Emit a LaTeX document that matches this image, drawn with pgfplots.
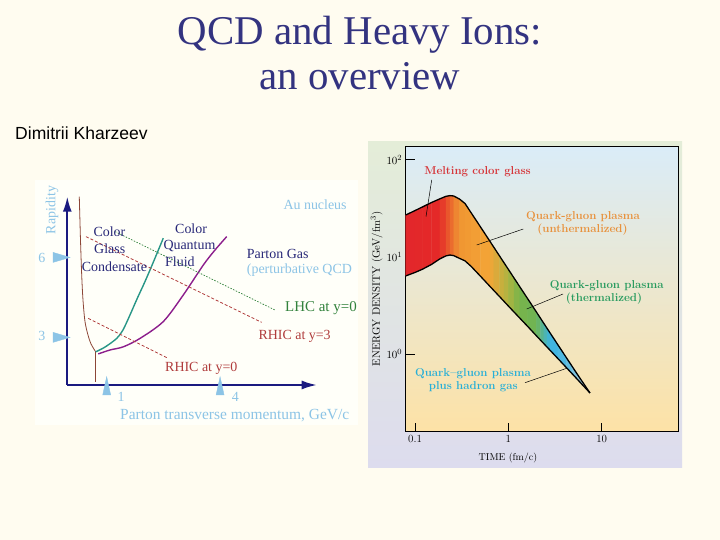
\documentclass[border=0pt]{standalone}
\usepackage{pgfplots}
\pgfplotsset{compat=1.18}
\usepackage{pgfplotstable}
\usepackage{fontspec}
\usetikzlibrary{arrows.meta}
\newfontfamily\tnr{Liberation Serif}
\newfontfamily\arialf{Liberation Sans}

\definecolor{slidebg}{RGB}{255,252,240}
\definecolor{leftbg}{RGB}{255,255,249}
\definecolor{titleblue}{RGB}{51,51,128}
\definecolor{navy}{RGB}{26,26,128}
\definecolor{lblue}{RGB}{140,196,230}
\definecolor{ntext}{RGB}{40,40,120}
\definecolor{lgreen}{RGB}{50,130,60}
\definecolor{lred}{RGB}{176,60,60}
\definecolor{cteal}{RGB}{40,150,135}
\definecolor{cpurp}{RGB}{140,30,140}
\definecolor{cbrown}{RGB}{140,70,55}
\definecolor{mred}{RGB}{214,52,56}
\definecolor{morange}{RGB}{232,145,60}
\definecolor{mgreen}{RGB}{40,155,95}
\definecolor{mcyan}{RGB}{40,175,215}
\definecolor{frametop}{RGB}{228,237,216}
\definecolor{framebot}{RGB}{221,220,238}
\definecolor{pbtop}{RGB}{218,236,248}
\definecolor{pbmid}{RGB}{242,243,226}
\definecolor{pbbot}{RGB}{253,226,166}

% energy density band: time (fm/c), lower and upper edge (GeV/fm^3)
\pgfplotstableread{
t      lo     hi
0.0794 6.4    27.1
0.1    6.95   30.1
0.12   7.5    32.8
0.15   8.4    36.4
0.185  9.6    39.8
0.215  10.3   42.2
0.237  10.5   42.9
0.26   10.35  42.5
0.3    9.7    39.5
0.343  9.15   35.6
0.4    8.01   28.5
0.5    6.39   20.6
0.636  4.99   14.5
0.8    3.95   10.36
1      3.14   7.48
1.33   2.35   4.93
1.6    1.95   3.77
2      1.55   2.72
2.8    1.10   1.66
3.4    0.903  1.25
4.2    0.728  0.92
5.5    0.552  0.621
7.5    0.40   0.40
}\bandtable

% band cut into quadrilaterals; m = colour position along the band (log time)
\pgfplotstableread{
t v m
0.0794 6.4 0
0.1 6.95 10
0.1 30.1 10
0.0794 27.1 0
0.1 6.95 10
0.12 7.5 17.9
0.12 32.8 17.9
0.1 30.1 10
0.12 7.5 17.9
0.15 8.4 27.6
0.15 36.4 27.6
0.12 32.8 17.9
0.15 8.4 27.6
0.185 9.6 36.7
0.185 39.8 36.7
0.15 36.4 27.6
0.185 9.6 36.7
0.215 10.3 43.2
0.215 42.2 43.2
0.185 39.8 36.7
0.215 10.3 43.2
0.237 10.5 47.5
0.237 42.9 47.5
0.215 42.2 43.2
0.237 10.5 47.5
0.26 10.35 51.5
0.26 42.5 51.5
0.237 42.9 47.5
0.26 10.35 51.5
0.3 9.7 57.7
0.3 39.5 57.7
0.26 42.5 51.5
0.3 9.7 57.7
0.343 9.15 63.5
0.343 35.6 63.5
0.3 39.5 57.7
0.343 9.15 63.5
0.4 8.01 70.2
0.4 28.5 70.2
0.343 35.6 63.5
0.4 8.01 70.2
0.5 6.39 79.9
0.5 20.6 79.9
0.4 28.5 70.2
0.5 6.39 79.9
0.636 4.99 90.3
0.636 14.5 90.3
0.5 20.6 79.9
0.636 4.99 90.3
0.7 4.526 94.5
0.7 12.60 94.5
0.636 14.5 90.3
0.7 4.526 94.5
0.8 3.95 100.3
0.8 10.36 100.3
0.7 12.60 94.5
0.8 3.95 100.3
0.9 3.501 105.4
0.9 8.727 105.4
0.8 10.36 100.3
0.9 3.501 105.4
1 3.14 110
1 7.48 110
0.9 8.727 105.4
1 3.14 110
1.15 2.725 116.1
1.15 6.099 116.1
1 7.48 110
1.15 2.725 116.1
1.33 2.35 122.4
1.33 4.93 122.4
1.15 6.099 116.1
1.33 2.35 122.4
1.6 1.95 130.4
1.6 3.77 130.4
1.33 4.93 122.4
1.6 1.95 130.4
2 1.55 140.1
2 2.72 140.1
1.6 3.77 130.4
2 1.55 140.1
2.2 1.406 144.2
2.2 2.365 144.2
2 2.72 140.1
2.2 1.406 144.2
2.4 1.287 148.0
2.4 2.082 148.0
2.2 2.365 144.2
2.4 1.287 148.0
2.6 1.186 151.5
2.6 1.851 151.5
2.4 2.082 148.0
2.6 1.186 151.5
2.8 1.10 154.7
2.8 1.66 154.7
2.6 1.851 151.5
2.8 1.10 154.7
3.4 0.903 163.2
3.4 1.25 163.2
2.8 1.66 154.7
3.4 0.903 163.2
4.2 0.728 172.3
4.2 0.92 172.3
3.4 1.25 163.2
4.2 0.728 172.3
4.8 0.6349 178.1
4.8 0.7574 178.1
4.2 0.92 172.3
4.8 0.6349 178.1
5.5 0.552 184.0
5.5 0.621 184.0
4.8 0.7574 178.1
5.5 0.552 184.0
6.3 0.4795 189.9
6.3 0.5124 189.9
5.5 0.621 184.0
6.3 0.4795 189.9
7.5 0.40 197.5
7.5 0.40 197.5
6.3 0.5124 189.9
}\bandpatch

\begin{document}
\begin{tikzpicture}[x=1bp,y=1bp]
\fill[slidebg] (0,0) rectangle (720,540);

% title and author
\node[anchor=base, text=titleblue, font=\tnr\fontsize{41}{45}\selectfont, inner sep=0pt] at (360,495) {QCD and Heavy Ions:};
\node[anchor=base, text=titleblue, font=\tnr\fontsize{41}{45}\selectfont, inner sep=0pt] at (360,450) {an overview};
\node[anchor=base west, font=\arialf\fontsize{17.6}{20}\selectfont, inner sep=0pt] at (15,400) {Dimitrii Kharzeev};

% ---------------- left panel ----------------
\fill[leftbg] (35,115) rectangle (358,360);
\begin{scope}[x=1cm, y=1cm]
\begin{axis}[
  at={(67.3bp,155bp)}, anchor=south west, scale only axis,
  width=249.4bp, height=188.3bp,
  xmin=-0.042, xmax=6.556, ymin=1.179, ymax=8.338,
  axis lines=left,
  axis line style={navy, line width=1.8pt, -{Latex[length=15bp,width=9bp]}},
  xtick=\empty, ytick=\empty, clip=false]
% saturation line
\addplot[cbrown, line width=0.8pt, smooth] coordinates {(0.275,8.34) (0.307,6.69) (0.339,5.36) (0.373,4.41) (0.426,3.59) (0.505,3.08) (0.585,2.74) (0.709,2.44)};
\addplot[cbrown, line width=0.6pt] coordinates {(0.709,2.44) (0.709,1.30)};
% color quantum fluid boundaries
\addplot[cteal, line width=1.4pt, smooth] coordinates {(0.709,2.44) (0.955,2.62) (1.265,2.95) (1.431,3.27) (1.616,3.84) (1.802,4.45) (2.013,5.11) (2.225,5.82) (2.497,6.76)};
\addplot[cpurp, line width=1.4pt, smooth] coordinates {(0.778,2.36) (1.087,2.51) (1.439,2.63) (1.881,2.95) (2.497,3.59) (3.026,4.60) (3.556,5.74) (3.865,6.31) (4.175,6.82)};
% kinematic lines
\addplot[lgreen, line width=0.7pt, dash pattern=on 1.5pt off 1.5pt] coordinates {(1.22,7.01) (5.452,4.03)};
\addplot[lred, line width=0.8pt, dash pattern=on 3pt off 2pt] coordinates {(0.452,6.82) (5.10,3.56)};
\addplot[lred, line width=0.8pt, dash pattern=on 3pt off 2pt] coordinates {(0.513,3.71) (2.63,2.19)};
% tick markers
\addplot[only marks, mark=triangle*, mark size=4.6pt, mark options={yscale=2.64, fill=lblue, draw=lblue}] coordinates {(1,1.03) (4,1.03)};
\addplot[only marks, mark=triangle*, mark size=5.77pt, mark options={rotate=-90, yscale=1.96, fill=lblue, draw=lblue}] coordinates {(-0.27,6.03) (-0.27,2.99)};
\end{axis}
\end{scope}

\begin{scope}[font=\tnr\fontsize{14}{16}\selectfont, inner sep=0pt]
\node[rotate=90, text=lblue] at (52,330) {Rapidity};
\node[anchor=base west, text=lblue] at (283.3,330) {Au nucleus};
\node[anchor=base west, text=ntext] at (93.3,303.3) {Color};
\node[anchor=base west, text=ntext] at (94,286.7) {Glass};
\node[anchor=base west, text=ntext] at (81.7,268.3) {Condensate};
\node[anchor=base west, text=ntext] at (175,306.7) {Color};
\node[anchor=base west, text=ntext] at (163.3,290) {Quantum};
\node[anchor=base west, text=ntext] at (165,273.3) {Fluid};
\node[anchor=base west, text=ntext] at (246.7,281.7) {Parton Gas};
\node[anchor=base west, text=lblue] at (246.7,266.7) {(perturbative QCD};
\node[anchor=base west, text=lgreen, font=\tnr\fontsize{15}{16}\selectfont] at (285,228.3) {LHC at y=0};
\node[anchor=base west, text=lred] at (258.3,200) {RHIC at y=3};
\node[anchor=base west, text=lred] at (165,168.3) {RHIC at y=0};
\node[anchor=base west, text=lblue, font=\tnr\fontsize{15.5}{17}\selectfont] at (120,120) {Parton transverse momentum, GeV/c};
\node[anchor=base west, text=lblue] at (117.3,138.3) {1};
\node[anchor=base west, text=lblue] at (231.7,138.3) {4};
\node[anchor=base west, text=lblue] at (38.3,277.7) {6};
\node[anchor=base west, text=lblue] at (38.3,199.3) {3};
\end{scope}

% ---------------- right panel ----------------
\shade[top color=frametop, bottom color=framebot] (368,72) rectangle (682,398);
\shade[top color=pbtop, middle color=pbmid, bottom color=pbbot] (405.67,108.33) rectangle (678.33,393.33);
\begin{scope}[x=1cm, y=1cm]
\begin{axis}[
  at={(405.67bp,108.33bp)}, anchor=south west, scale only axis,
  width=272.67bp, height=285bp,
  xmode=log, ymode=log,
  xmin=0.0794, xmax=66.4, ymin=0.16, ymax=136.8,
  xtick={0.1,1,10}, xticklabels={0.1,1,10},
  ytick={1,10,100},
  xminorticks=false, yminorticks=false,
  tick pos=left, tick align=inside, major tick length=9pt,
  tick style={black, line width=0.8pt},
  axis line style={black, line width=0.9pt},
  ticklabel style={font=\fontsize{11}{12}\selectfont},
  colormap={band}{rgb255(0pt)=(227,38,43) rgb255(36.7pt)=(228,42,40) rgb255(57.7pt)=(240,150,50) rgb255(90.3pt)=(243,165,55) rgb255(110pt)=(175,180,65) rgb255(122.4pt)=(120,180,75) rgb255(140.1pt)=(110,180,85) rgb255(154.7pt)=(60,180,225) rgb255(172.3pt)=(85,185,225) rgb255(197.5pt)=(200,210,215)},
  point meta min=0, point meta max=197.5]
\addplot[patch, patch type=rectangle, shader=faceted, faceted color=mapped color, line width=0.4pt, point meta=explicit] table[x=t, y=v, meta=m] {\bandpatch};
\addplot[black, line width=1.3pt, line join=round] table[x=t, y=hi] {\bandtable};
\addplot[black, line width=1.3pt, line join=round] table[x=t, y=lo] {\bandtable};
\end{axis}
\end{scope}

\node[rotate=90, font=\fontsize{10.8}{12}\selectfont] at (376.7,251) {ENERGY DENSITY (GeV/fm$^3$)};
\node[font=\fontsize{10}{12}\selectfont] at (508,81.7) {TIME (fm/c)};

\begin{scope}[font=\bfseries\fontsize{11.5}{13}\selectfont, inner sep=0pt]
\node[anchor=base, text=mred] at (477.5,365.7) {Melting color glass};
\node[anchor=base, text=morange] at (583,320) {Quark-gluon plasma};
\node[anchor=base, text=morange] at (582.5,307) {(unthermalized)};
\node[anchor=base, text=mgreen] at (606.7,251.7) {Quark-gluon plasma};
\node[anchor=base, text=mgreen] at (604,238) {(thermalized)};
\node[anchor=base, text=mcyan] at (473,163.3) {Quark--gluon plasma};
\node[anchor=base, text=mcyan] at (473.3,150) {plus hadron gas};
\end{scope}
\draw[black, line width=0.5pt] (431.7,360) -- (426,323.3);
\draw[black, line width=0.5pt] (523.3,311) -- (476.7,295);
\draw[black, line width=0.5pt] (563,246) -- (526.7,231);
\draw[black, line width=0.5pt] (525,157.3) -- (566.7,171.7);
\end{tikzpicture}
\end{document}
